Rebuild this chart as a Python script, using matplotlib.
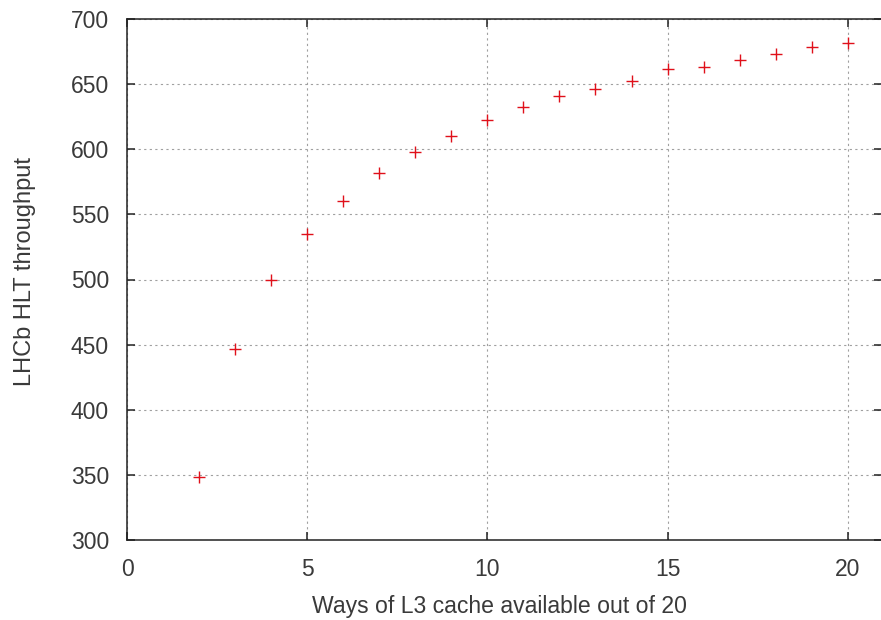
import matplotlib
matplotlib.use("Agg")
import matplotlib.pyplot as plt

# ways of L3 cache vs measured throughput
ways = [2, 3, 4, 5, 6, 7, 8, 9, 10, 11, 12, 13, 14, 15, 16, 17, 18, 19, 20]
throughput = [348.1, 446.4, 500.0, 534.7, 560.5, 581.5, 597.9, 610.2, 622.2,
              632.2, 640.9, 646.5, 652.1, 661.9, 662.9, 668.5, 673.1, 678.2, 681.8]

x_ticks = [0, 5, 10, 15, 20]
y_ticks = [300, 350, 400, 450, 500, 550, 600, 650, 700]

plt.rcParams["font.family"] = ["Liberation Sans", "DejaVu Sans"]

W, H = 881, 620
left, right, top, bottom = 127, 882, 19, 540
fig = plt.figure(figsize=(W / 100, H / 100), dpi=100)
ax = fig.add_axes([left / W, (H - bottom) / H, (right - left) / W, (bottom - top) / H])

ax.plot(ways, throughput, linestyle="none", marker="+", color="#e0101a",
        markersize=8, markeredgewidth=1.0, zorder=3)

ax.set_xlim(0, 20.95)
ax.set_ylim(300, 700)
ax.set_xticks(x_ticks)
ax.set_yticks(y_ticks)

ax.grid(True, color="#a0a0a0", linestyle=(0, (2, 3)), linewidth=0.8, zorder=1)
for s in ax.spines.values():
    s.set_color("#222222")
    s.set_linewidth(1.1)

ax.tick_params(direction="in", length=6, width=1.1, color="#222222",
               top=True, right=True, labelsize=16.5, labelcolor="#3a3a3a", pad=13)

ax.set_xlabel("Ways of L3 cache available out of 20", fontsize=16.6,
              color="#3a3a3a", va="center")
ax.set_ylabel("LHCb HLT throughput", fontsize=17, color="#3a3a3a", va="center")
# label centres in pixels: x-label (499, 607), y-label (25, 272)
ax.xaxis.set_label_coords((499 - left) / (right - left), (bottom - 607) / (bottom - top))
ax.yaxis.set_label_coords((25 - left) / (right - left), (bottom - 272) / (bottom - top))

fig.savefig("out.png", dpi=100, facecolor="white")
